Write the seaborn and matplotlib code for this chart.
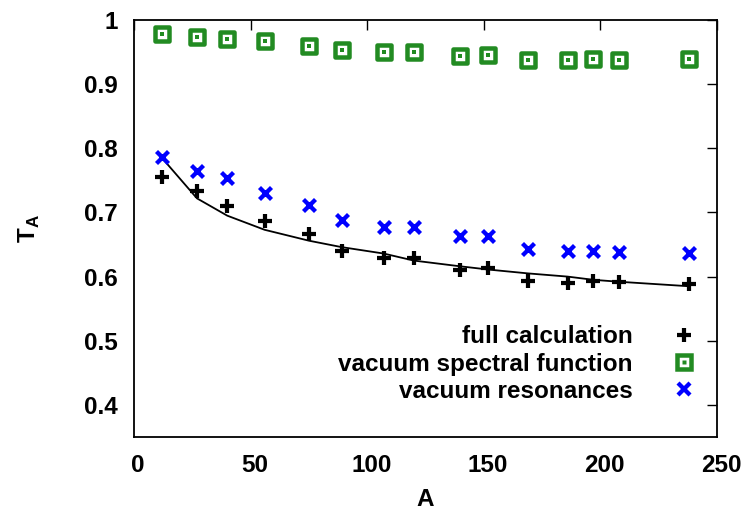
import numpy as np
import pandas as pd
import matplotlib
matplotlib.use("Agg")
import matplotlib.pyplot as plt
import matplotlib.transforms as mtransforms
import seaborn as sns
from matplotlib.lines import Line2D
from matplotlib.legend_handler import HandlerTuple

# ---- data ----
A = [12, 27, 40, 56, 75, 89, 107, 120, 140, 152, 169, 186, 197, 208, 238]
full_calc = [0.756, 0.734, 0.710, 0.687, 0.666, 0.640, 0.629, 0.629, 0.611, 0.614,
             0.593, 0.590, 0.593, 0.591, 0.589]
vac_spectral = [0.978, 0.974, 0.971, 0.967, 0.959, 0.953, 0.950, 0.950, 0.944, 0.946,
                0.938, 0.938, 0.939, 0.938, 0.939]
vac_resonances = [0.786, 0.764, 0.753, 0.730, 0.712, 0.688, 0.677, 0.677, 0.663, 0.663,
                  0.643, 0.640, 0.640, 0.639, 0.637]
fit_line = [0.785, 0.722, 0.695, 0.673, 0.656, 0.646, 0.636, 0.625, 0.616, 0.611,
            0.605, 0.600, 0.595, 0.592, 0.585]
x_ticks = [0, 50, 100, 150, 200, 250]
y_ticks = [0.4, 0.5, 0.6, 0.7, 0.8, 0.9, 1.0]
y_ticklabels = ["0.4", "0.5", "0.6", "0.7", "0.8", "0.9", "1"]
labels = ["full calculation", "vacuum spectral function", "vacuum resonances"]

df = pd.DataFrame({"A": A, "full": full_calc, "spec": vac_spectral,
                   "res": vac_resonances, "fit": fit_line})

sns.set_theme(style="white")
plt.rcParams['font.family'] = ['Liberation Sans', 'DejaVu Sans']
plt.rcParams['font.weight'] = 'bold'
plt.rcParams['text.color'] = 'black'
plt.rcParams['axes.labelcolor'] = 'black'

GREEN = "#228b22"
BLUE = "#0000ff"
PX = 72 / 100  # points per pixel at dpi 100
FS = 17.5

fig = plt.figure(figsize=(7.43, 5.16), dpi=100)
ax = fig.add_axes([134 / 743, 1 - 437 / 516, (717 - 134) / 743, (437 - 20) / 516])

sns.lineplot(data=df, x="A", y="fit", ax=ax, color="black", linewidth=1.3, legend=False, zorder=2)
sns.scatterplot(data=df, x="A", y="full", ax=ax, marker="+", s=(13.5 * PX) ** 2,
                color="black", linewidths=4.2 * PX, legend=False, zorder=4)
sns.scatterplot(data=df, x="A", y="spec", ax=ax, marker="s", s=(13.5 * PX) ** 2,
                facecolor="white", edgecolor=GREEN, linewidth=4.5 * PX, legend=False, zorder=3)
sns.scatterplot(data=df, x="A", y="spec", ax=ax, marker="s", s=(4 * PX) ** 2,
                color=GREEN, edgecolor="none", linewidth=0, legend=False, zorder=3.5)
sns.scatterplot(data=df, x="A", y="res", ax=ax, marker="x", s=(12 * PX) ** 2,
                color=BLUE, linewidths=4.3 * PX, legend=False, zorder=3)

ax.set_xlim(0, 250)
ax.set_ylim(0.35, 1.0)
ax.set_xticks(x_ticks)
ax.set_yticks(y_ticks)
ax.set_yticklabels(y_ticklabels)
ax.tick_params(direction="in", length=7.5, width=1, top=True, right=True,
               labelsize=FS, colors="black")
ax.tick_params(axis="y", pad=11.5)
ax.tick_params(axis="x", pad=12.5)
shift = mtransforms.ScaledTranslation(4 / 100, 0, fig.dpi_scale_trans)
for lab in ax.get_xticklabels():
    lab.set_transform(lab.get_transform() + shift)
for lab in ax.get_xticklabels() + ax.get_yticklabels():
    lab.set_fontweight("bold")
for s in ax.spines.values():
    s.set_linewidth(1.3)
    s.set_color("black")
ax.set_xlabel("A", fontsize=FS, fontweight="bold", labelpad=8)
ax.set_ylabel(r"T$_\mathregular{A}$", fontsize=FS, fontweight="bold")
ax.yaxis.set_label_coords(-0.158, 0.5)
ax.grid(False)

h_full = Line2D([], [], marker="+", ls="none", color="black", ms=13.5 * PX, mew=4.2 * PX)
h_spec_a = Line2D([], [], marker="s", ls="none", mfc="white", mec=GREEN, ms=13.5 * PX, mew=4.5 * PX)
h_spec_b = Line2D([], [], marker="s", ls="none", mfc=GREEN, mec="none", ms=4 * PX)
h_res = Line2D([], [], marker="x", ls="none", color=BLUE, ms=12 * PX, mew=4.3 * PX)
leg = ax.legend([h_full, (h_spec_a, h_spec_b), h_res], labels,
                handler_map={tuple: HandlerTuple(ndivide=1, pad=0)},
                loc="center right", bbox_to_anchor=(0.969, (437 - 364) / 417),
                borderaxespad=0, borderpad=0, frameon=False,
                markerfirst=False, prop={"size": FS, "weight": "bold"},
                handlelength=1.2, handletextpad=1.54, labelspacing=0.17, alignment="right")
for t in leg.get_texts():
    t.set_ha("right")

fig.savefig("out.png", dpi=100)
